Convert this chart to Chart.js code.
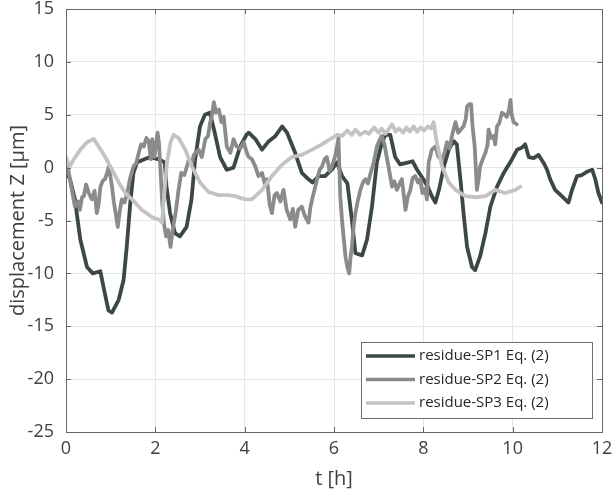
<!DOCTYPE html>
<html>
<head>
<meta charset="utf-8">
<script src="https://cdn.jsdelivr.net/npm/chart.js@4.4.1/dist/chart.umd.min.js"></script>
<style>
  html, body { margin: 0; padding: 0; background: #fff; }
  #wrap { width: 612px; height: 491px; }
</style>
</head>
<body>
<div id="wrap"><canvas id="residues"></canvas></div>
<script>
// time [h] and residue Z [µm] for each spindle
const sp1T = [0,0.09,0.2,0.24,0.32,0.47,0.6,0.77,0.84,0.95,1.03,1.18,1.29,1.36,1.44,1.51,1.59,1.73,1.88,2.1,2.21,2.25,2.33,2.44,2.55,2.7,2.81,2.89,3.0,3.11,3.22,3.33,3.45,3.6,3.75,3.9,4.04,4.09,4.24,4.39,4.54,4.69,4.84,4.95,5.13,5.28,5.43,5.52,5.66,5.8,5.95,6.07,6.18,6.3,6.4,6.48,6.63,6.74,6.85,6.96,7.07,7.15,7.26,7.37,7.48,7.67,7.76,7.86,8.0,8.1,8.19,8.27,8.35,8.46,8.57,8.68,8.75,8.83,8.9,8.98,9.09,9.16,9.27,9.39,9.5,9.65,9.8,9.98,10.1,10.21,10.28,10.36,10.47,10.58,10.7,10.77,10.84,10.95,11.1,11.25,11.33,11.44,11.55,11.66,11.78,11.85,11.92,12.0];
const sp1Z = [-0.3,-1.1,-3.0,-4.3,-6.8,-9.4,-10.0,-9.8,-11.3,-13.5,-13.7,-12.5,-10.6,-7.5,-3.3,-0.5,0.5,0.75,1.0,0.75,0.5,-1.8,-4.3,-6.2,-6.5,-5.6,-3.0,0.75,3.9,5.0,5.2,3.3,1.0,-0.2,0.0,2.0,3.1,3.3,2.7,1.7,2.5,3.0,3.9,3.3,1.4,-0.5,-1.1,-1.4,-0.8,-0.8,-0.2,0.5,-0.8,-1.5,-4.9,-8.1,-8.3,-6.8,-3.7,0.5,2.3,3.1,3.1,1.0,0.3,0.5,0.6,-0.2,-1.1,-1.8,-2.7,-3.3,-2.1,0.1,1.7,2.5,2.2,-1.1,-4.3,-7.5,-9.4,-9.7,-8.4,-6.2,-3.7,-1.8,-0.5,0.75,1.7,1.9,2.2,1.0,0.9,1.2,0.4,-0.2,-1.1,-2.1,-2.7,-3.3,-2.1,-0.8,-0.7,-0.4,-0.2,-1.1,-2.4,-3.3];

const sp2T = [0,0.05,0.09,0.15,0.2,0.27,0.31,0.36,0.4,0.45,0.51,0.58,0.64,0.69,0.73,0.77,0.83,0.87,0.92,0.96,1.0,1.03,1.07,1.1,1.16,1.2,1.25,1.31,1.37,1.43,1.51,1.57,1.63,1.68,1.74,1.8,1.85,1.9,1.93,1.98,2.05,2.08,2.11,2.15,2.19,2.24,2.29,2.34,2.4,2.46,2.52,2.58,2.65,2.75,2.82,2.86,2.97,3.04,3.12,3.18,3.23,3.27,3.31,3.36,3.42,3.48,3.53,3.6,3.68,3.75,3.82,3.9,3.98,4.04,4.09,4.16,4.24,4.31,4.39,4.45,4.5,4.56,4.61,4.67,4.72,4.8,4.87,4.94,5.02,5.08,5.13,5.2,5.28,5.35,5.43,5.47,5.51,5.57,5.62,5.68,5.73,5.79,5.84,5.9,5.95,6.02,6.07,6.1,6.14,6.18,6.22,6.26,6.3,6.34,6.37,6.4,6.44,6.48,6.53,6.59,6.65,6.7,6.76,6.82,6.89,6.96,7.02,7.07,7.13,7.18,7.22,7.3,7.35,7.41,7.47,7.52,7.56,7.6,7.65,7.71,7.76,7.82,7.88,7.93,7.98,8.04,8.08,8.12,8.19,8.27,8.34,8.42,8.48,8.53,8.59,8.64,8.72,8.78,8.84,8.9,8.95,8.98,9.03,9.07,9.1,9.15,9.2,9.24,9.27,9.33,9.39,9.44,9.46,9.52,9.57,9.61,9.65,9.7,9.76,9.82,9.87,9.92,9.95,9.98,10.02,10.09];
const sp2Z = [0.5,-0.2,-1.1,-2.5,-3.7,-3.2,-4.0,-2.8,-2.7,-1.6,-2.4,-3.0,-2.2,-4.3,-3.5,-1.8,-1.2,-1.1,-0.5,0.1,-1.0,-1.8,-3.2,-4.0,-5.6,-4.2,-3.0,-3.3,-2.4,-1.1,0.1,0.4,1.4,2.2,2.0,2.8,2.5,0.8,2.7,1.0,3.3,2.4,0.2,-3.0,-5.2,-6.5,-5.9,-7.5,-5.6,-4.1,-2.1,-0.5,-0.7,0.75,0.4,1.2,1.7,1.0,2.7,3.0,4.3,5.0,6.2,5.2,5.5,4.3,4.8,2.0,1.4,2.7,2.0,1.8,2.4,1.5,1.0,0.8,0.1,-0.8,-0.5,-1.5,-1.1,-3.5,-4.3,-2.6,-2.4,-3.2,-2.1,-4.0,-4.9,-3.9,-5.6,-4.0,-3.7,-4.6,-5.2,-3.8,-3.0,-2.0,-1.1,-0.2,0.1,0.8,1.0,-0.3,0.1,1.0,2.0,2.8,-2.7,-5.0,-6.8,-8.5,-9.4,-10.0,-8.5,-7.5,-5.5,-4.3,-3.2,-2.1,-1.4,-1.1,-1.5,-0.5,0.5,2.0,2.6,3.0,2.2,1.0,0.1,-1.8,-1.3,-2.1,-1.5,-1.1,-2.5,-4.0,-2.8,-2.1,-1.0,-0.8,-1.4,-1.1,-2.4,-2.0,-3.0,0.5,1.7,2.0,1.0,0.75,1.5,2.4,1.8,3.0,4.3,3.3,3.6,3.9,4.6,5.8,6.0,6.0,4.0,2.0,-2.1,-1.0,0.1,0.8,1.4,2.2,3.6,2.8,3.0,2.2,3.9,4.2,5.2,5.0,4.8,5.5,6.4,5.0,4.3,4.1];

const sp3T = [0,0.08,0.17,0.32,0.47,0.62,0.73,0.88,1.03,1.18,1.33,1.48,1.7,1.93,2.08,2.15,2.2,2.26,2.34,2.41,2.52,2.67,2.82,3.0,3.19,3.42,3.64,3.79,4.01,4.16,4.39,4.61,4.84,5.06,5.28,5.51,5.73,5.95,6.07,6.18,6.3,6.4,6.48,6.58,6.7,6.78,6.9,7.0,7.07,7.15,7.22,7.3,7.38,7.45,7.55,7.62,7.7,7.78,7.86,7.94,8.02,8.1,8.17,8.23,8.3,8.42,8.57,8.72,8.94,9.16,9.39,9.61,9.83,10.06,10.17];
const sp3Z = [1.0,0.1,0.75,1.7,2.4,2.7,2.0,1.0,-0.2,-1.4,-2.4,-3.0,-4.0,-4.7,-4.9,-5.2,-2.5,0.5,2.4,3.1,2.8,1.7,0.1,-1.4,-2.3,-2.6,-2.6,-2.7,-3.0,-3.0,-2.1,-0.8,0.3,1.0,1.2,1.7,2.2,2.8,3.1,3.0,3.5,3.1,3.6,3.1,3.4,3.2,3.8,3.3,3.7,3.2,3.6,4.1,3.4,3.7,3.3,3.8,3.4,3.9,3.4,3.8,3.5,3.9,3.7,4.3,2.4,0.1,-1.4,-2.1,-2.7,-2.8,-2.7,-2.1,-2.4,-2.1,-1.8];

const seriesLabels = ['residue-SP1 Eq. (2)', 'residue-SP2 Eq. (2)', 'residue-SP3 Eq. (2)'];
const seriesColors = ['#3c4845', '#8b8b8d', '#c3c3c3'];

const xTicks = [0, 2, 4, 6, 8, 10, 12];
const yTicks = [-25, -20, -15, -10, -5, 0, 5, 10, 15];

const toPoints = (t, z) => t.map((v, i) => ({ x: v, y: z[i] }));

const font = "'Open Sans', sans-serif";
const axisColor = '#666666';

// box around the axes with short inward ticks on every side, plus the legend box
const framePlugin = {
  id: 'frame',
  afterDraw(chart) {
    const { ctx, chartArea: a, scales } = chart;
    ctx.save();
    ctx.strokeStyle = axisColor;
    ctx.lineWidth = 1;
    ctx.strokeRect(a.left + 0.5, a.top + 0.5, a.right - a.left, a.bottom - a.top);
    ctx.beginPath();
    xTicks.forEach(v => {
      const px = Math.round(scales.x.getPixelForValue(v)) + 0.5;
      ctx.moveTo(px, a.bottom); ctx.lineTo(px, a.bottom - 5);
      ctx.moveTo(px, a.top); ctx.lineTo(px, a.top + 5);
    });
    yTicks.forEach(v => {
      const py = Math.round(scales.y.getPixelForValue(v)) + 0.5;
      ctx.moveTo(a.left, py); ctx.lineTo(a.left + 5, py);
      ctx.moveTo(a.right, py); ctx.lineTo(a.right - 5, py);
    });
    ctx.stroke();

    // legend
    const boxW = 231, boxH = 76;
    const bx = a.right - 10 - boxW, by = a.bottom - 14 - boxH;
    ctx.fillStyle = '#ffffff';
    ctx.fillRect(bx, by, boxW, boxH);
    ctx.strokeStyle = '#6e6e6e';
    ctx.strokeRect(bx + 0.5, by + 0.5, boxW, boxH);
    ctx.font = '15px ' + font;
    ctx.textBaseline = 'middle';
    chart.data.datasets.forEach((ds, i) => {
      const y = by + 14 + i * 23.5;
      ctx.strokeStyle = ds.borderColor;
      ctx.lineWidth = 3.5;
      ctx.beginPath();
      ctx.moveTo(bx + 5, y); ctx.lineTo(bx + 54, y);
      ctx.stroke();
      ctx.fillStyle = '#262626';
      ctx.fillText(ds.label, bx + 58, y);
    });
    ctx.restore();
  }
};

new Chart(document.getElementById('residues'), {
  type: 'line',
  data: {
    datasets: [
      { label: seriesLabels[0], data: toPoints(sp1T, sp1Z), borderColor: seriesColors[0], order: 3 },
      { label: seriesLabels[1], data: toPoints(sp2T, sp2Z), borderColor: seriesColors[1], order: 2 },
      { label: seriesLabels[2], data: toPoints(sp3T, sp3Z), borderColor: seriesColors[2], order: 1 }
    ]
  },
  options: {
    responsive: true,
    maintainAspectRatio: false,
    animation: false,
    layout: { padding: { left: 0, right: 10, top: 9, bottom: 0 } },
    elements: {
      point: { radius: 0 },
      line: { borderWidth: 3.8, tension: 0, borderJoinStyle: 'round', borderCapStyle: 'round' }
    },
    plugins: { legend: { display: false }, tooltip: { enabled: false } },
    scales: {
      x: {
        type: 'linear', min: 0, max: 12,
        afterBuildTicks: s => { s.ticks = xTicks.map(v => ({ value: v })); },
        afterFit: s => { s.height = 59; s.paddingLeft = 0; s.paddingRight = 0; },
        grid: { color: '#e6e6e6', drawTicks: false },
        border: { display: false },
        ticks: { color: '#404040', font: { family: font, size: 18 }, padding: 6 },
        title: { display: true, text: 't [h]', color: '#404040', font: { family: font, size: 20 }, padding: { top: 0, bottom: 0 } }
      },
      y: {
        type: 'linear', min: -25, max: 15,
        afterBuildTicks: s => { s.ticks = yTicks.map(v => ({ value: v })); },
        afterFit: s => { s.width = 66; s.paddingTop = 0; s.paddingBottom = 0; },
        grid: { color: '#e6e6e6', drawTicks: false },
        border: { display: false },
        ticks: { color: '#404040', font: { family: font, size: 18 }, padding: 12 },
        title: { display: true, text: 'displacement Z [µm]', color: '#404040', font: { family: font, size: 20 }, padding: { top: 6, bottom: 0 } }
      }
    }
  },
  plugins: [framePlugin]
});
</script>
</body>
</html>
